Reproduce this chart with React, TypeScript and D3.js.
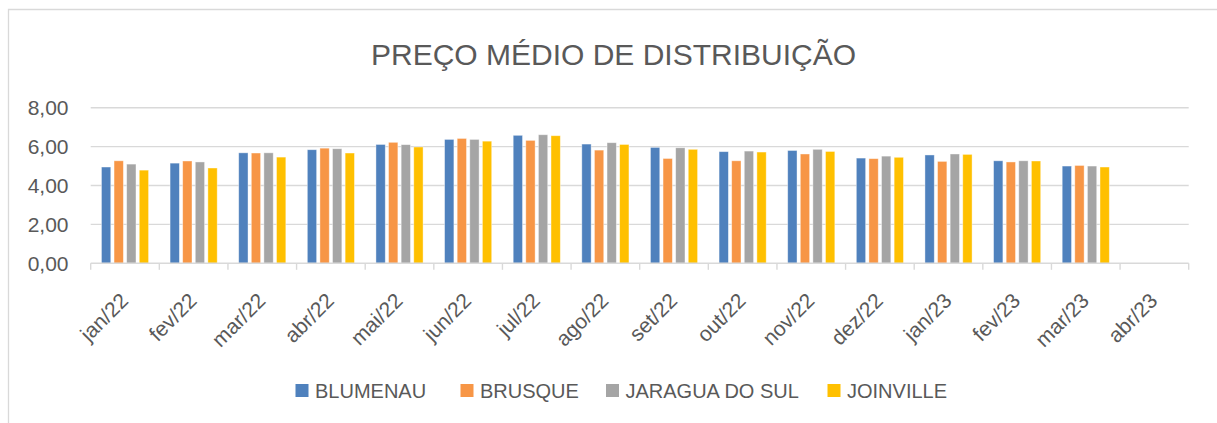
import React from "react";
import * as d3 from "d3";

const categories = [
  "jan/22", "fev/22", "mar/22", "abr/22", "mai/22", "jun/22", "jul/22", "ago/22",
  "set/22", "out/22", "nov/22", "dez/22", "jan/23", "fev/23", "mar/23", "abr/23",
];
const seriesNames = ["BLUMENAU", "BRUSQUE", "JARAGUA DO SUL", "JOINVILLE"];
const blumenau = [4.95, 5.15, 5.68, 5.84, 6.11, 6.37, 6.58, 6.13, 5.96, 5.74, 5.80, 5.41, 5.57, 5.27, 5.00, null];
const brusque = [5.27, 5.26, 5.67, 5.92, 6.22, 6.42, 6.32, 5.82, 5.39, 5.27, 5.62, 5.38, 5.24, 5.21, 5.03, null];
const jaragua = [5.10, 5.21, 5.68, 5.89, 6.10, 6.37, 6.61, 6.20, 5.94, 5.77, 5.86, 5.51, 5.62, 5.27, 5.00, null];
const joinville = [4.79, 4.90, 5.46, 5.67, 5.98, 6.28, 6.56, 6.11, 5.86, 5.72, 5.75, 5.45, 5.60, 5.26, 4.95, null];
const seriesValues = [blumenau, brusque, jaragua, joinville];
const colors = ["#4F81BD", "#F79646", "#A5A5A5", "#FFC000"];
const yTicks = [0, 2, 4, 6, 8];
const title = "PREÇO MÉDIO DE DISTRIBUIÇÃO";

const W = 1217;
const H = 423;
const plotLeft = 90.7;
const plotRight = 1188.7;
const plotTop = 107.7;
const plotBottom = 263.3;
const textColor = "#595959";
const gridColor = "#D9D9D9";
const font = "'Liberation Sans', Arial, sans-serif";
const legendSwatchX = [295.5, 460.5, 606, 827.5];

export default function App() {
  const x0 = d3.scaleBand<string>().domain(categories).range([plotLeft, plotRight]).padding(0);
  const bw = x0.bandwidth();
  const x1 = d3
    .scaleBand<string>()
    .domain(seriesNames)
    .range([bw * 0.1327, bw * 0.8673])
    .padding(0);
  const barW = x1.bandwidth() * 0.74;
  const y = d3.scaleLinear().domain([0, 8]).range([plotBottom, plotTop]);

  const boundaries = [...categories.map((c) => x0(c) as number), plotRight];

  return (
    <svg
      width={W}
      height={H}
      style={{ position: "absolute", left: 0, top: 0, background: "#fff" }}
      fontFamily={font}
    >
      <rect x={0} y={0} width={W} height={H} fill="#fff" />
      {/* chart border */}
      <path d={`M8.5,${H + 5} V9.5 H${W + 5}`} fill="none" stroke={gridColor} strokeWidth={1.3} />

      <text x={613.5} y={65} textAnchor="middle" fontSize={30} fill={textColor}>
        {title}
      </text>

      {/* gridlines */}
      {yTicks.filter((t) => t > 0).map((t) => (
        <line key={t} x1={plotLeft} x2={plotRight} y1={y(t)} y2={y(t)} stroke={gridColor} strokeWidth={1.4} />
      ))}
      {/* y labels */}
      {yTicks.map((t) => (
        <text key={t} x={68.5} y={y(t) + 7.5} textAnchor="end" fontSize={21} fill={textColor}>
          {d3.format(".2f")(t).replace(".", ",")}
        </text>
      ))}

      {/* bars */}
      {seriesValues.map((vals, si) =>
        vals.map((v, ci) =>
          v == null ? null : (
            <rect
              key={`${si}-${ci}`}
              x={(x0(categories[ci]) as number) + (x1(seriesNames[si]) as number) + (x1.bandwidth() - barW) / 2}
              y={y(v)}
              width={barW}
              height={y(0) - y(v)}
              fill={colors[si]}
              stroke="#ffffff"
              strokeOpacity={0.5}
              strokeWidth={0.8}
            />
          )
        )
      )}

      {/* x axis */}
      <line x1={plotLeft} x2={plotRight} y1={plotBottom} y2={plotBottom} stroke={gridColor} strokeWidth={1.4} />
      {boundaries.map((b, i) => (
        <line key={i} x1={b} x2={b} y1={plotBottom} y2={plotBottom + 6.5} stroke={gridColor} strokeWidth={1.4} />
      ))}
      {categories.map((c) => {
        const px = (x0(c) as number) + bw / 2 + 4.5;
        const py = 302;
        return (
          <text
            key={c}
            x={px}
            y={py}
            textAnchor="end"
            fontSize={21}
            fill={textColor}
            transform={`rotate(-45, ${px}, ${py})`}
          >
            {c}
          </text>
        );
      })}

      {/* legend */}
      {seriesNames.map((s, i) => (
        <g key={s}>
          <rect x={legendSwatchX[i]} y={384} width={13} height={13} fill={colors[i]} />
          <text x={legendSwatchX[i] + 19.5} y={397.5} fontSize={20} fill={textColor}>
            {s}
          </text>
        </g>
      ))}
    </svg>
  );
}
